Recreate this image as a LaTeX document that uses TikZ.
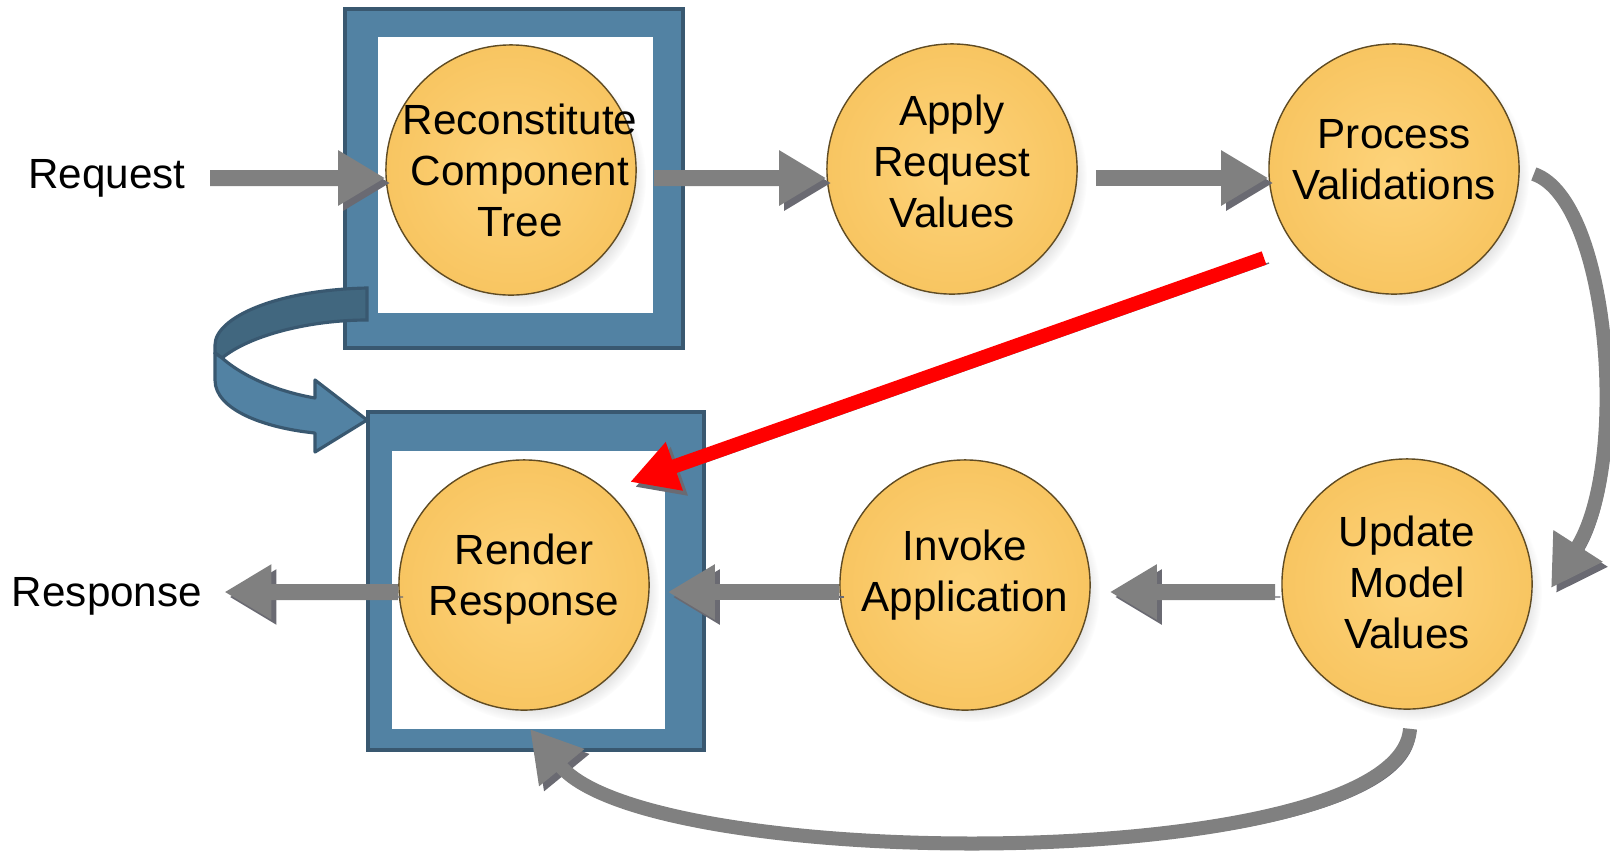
\documentclass[tikz,border=0pt]{standalone}
\usepackage{fontspec}
\setmainfont{Liberation Sans}
\usetikzlibrary{arrows.meta}
\usetikzlibrary{shadows}

\definecolor{phasein}{RGB}{253,211,122}
\definecolor{phaseout}{RGB}{248,197,97}
\definecolor{phaseedge}{RGB}{95,75,35}
\definecolor{boxblue}{RGB}{82,130,163}
\definecolor{boxedge}{RGB}{57,88,112}
\definecolor{ribbondark}{RGB}{65,103,127}
\definecolor{flowgray}{RGB}{128,128,128}
\definecolor{flowshadow}{RGB}{106,106,114}

\tikzset{
    phase/.style={circle, minimum size=2.5cm, inner sep=0pt, draw=phaseedge, line width=0.4pt,
        inner color=phasein, outer color=phaseout,
        circular drop shadow={shadow xshift=0.6mm, shadow yshift=-0.8mm, opacity=0.3, shadow scale=1.03}},
    phasetext/.style={align=center, font=\fontsize{12}{14.5}\selectfont},
    frame/.style={fill=boxblue, draw=boxedge, line width=0.9pt},
    flow/.style={draw=flowgray, line width=0.16cm, -{Triangle[length=0.47cm, width=0.52cm]},
        preaction={draw=flowshadow, transform canvas={xshift=0.5mm, yshift=-0.5mm}}},
    bendflow/.style={draw=flowgray, line width=0.14cm, -{Triangle[length=0.5cm, width=0.55cm]},
        preaction={draw=flowshadow, transform canvas={xshift=0.5mm, yshift=-0.5mm}}},
    redflow/.style={draw=red, line width=0.14cm, -{Triangle[length=0.47cm, width=0.48cm]},
        preaction={draw=flowshadow, transform canvas={xshift=0.5mm, yshift=-0.5mm}}},
}

\begin{document}
\begin{tikzpicture}[x=0.01cm, y=-0.01cm]
    \useasboundingbox (0, 0) rectangle (1610, 854);
    \draw[frame] (345, 9) rectangle (683, 348);
    \fill[white] (378, 37) rectangle (653, 313);
    \draw[frame] (368, 412) rectangle (704, 750);
    \fill[white] (392, 451) rectangle (665, 729);
    \draw[fill=ribbondark, draw=boxedge, line width=0.9pt] (367, 288) .. controls (275, 290) and (215, 318) .. (215, 345) -- (215, 353) -- (222, 358) .. controls (250, 335) and (310, 320) .. (367, 320) -- cycle;
    \draw[fill=boxblue, draw=boxedge, line width=0.9pt, line join=round] (215, 353) -- (222, 358) .. controls (245, 378) and (280, 392) .. (315, 398) -- (315, 380) -- (367, 420) -- (315, 452) -- (315, 433) .. controls (265, 428) and (215, 410) .. (215, 380) -- cycle;
    \node[phasetext] (request) at (107, 178) {Request};
    \node[phasetext] (response) at (107, 596) {Response};
    \node[phase, label={[phasetext, xshift=0.9mm]center:Reconstitute\\Component\\Tree}] (c1) at (511, 170) {};
    \node[phase, label={[phasetext, yshift=0.8mm]center:Apply\\Request\\Values}] (c2) at (952, 169) {};
    \node[phase, label={[phasetext, yshift=0.9mm]center:Process\\Validations}] (c3) at (1394, 169) {};
    \node[phase, label={[phasetext, yshift=0.2mm]center:Update\\Model\\Values}] (c4) at (1407, 584) {};
    \node[phase, label={[phasetext, yshift=0.95mm]center:Invoke\\Application}] (c5) at (965, 585) {};
    \node[phase, label={[phasetext, yshift=0.55mm]center:Render\\Response}] (c6) at (524, 585) {};
    \coordinate (valfail) at (1264, 258);
    \coordinate (renderin) at (630, 482);
    \draw[flow, shorten <=0.12cm] (request.east) -- ([yshift=-0.8mm]c1.west);
    \draw[flow, shorten <=0.17cm] ([yshift=-0.8mm]c1.east) -- ([yshift=-0.9mm]c2.west);
    \draw[flow, shorten <=0.18cm] ([yshift=-0.9mm]c2.east) -- ([yshift=-0.9mm]c3.west);
    \draw[bendflow] ([xshift=1.4mm, yshift=-0.5mm]c3.east) .. controls (1610, 200) and (1630, 465) .. (1551, 588);
    \draw[flow, shorten <=0.06cm, shorten >=0.19cm] ([yshift=-0.8mm]c4.west) -- ([yshift=-0.7mm]c5.east);
    \draw[flow, shorten >=0.18cm] ([yshift=-0.7mm]c5.west) -- ([yshift=-0.7mm]c6.east);
    \draw[flow, shorten >=0.1cm] ([yshift=-0.7mm]c6.west) -- ([yshift=0.4mm]response.east);
    \draw[bendflow] ([xshift=0.3mm, yshift=-1.9mm]c4.south) .. controls (1400, 875) and (650, 875) .. (530, 729);
    \draw[redflow] (valfail) -- (renderin);
\end{tikzpicture}
\end{document}
